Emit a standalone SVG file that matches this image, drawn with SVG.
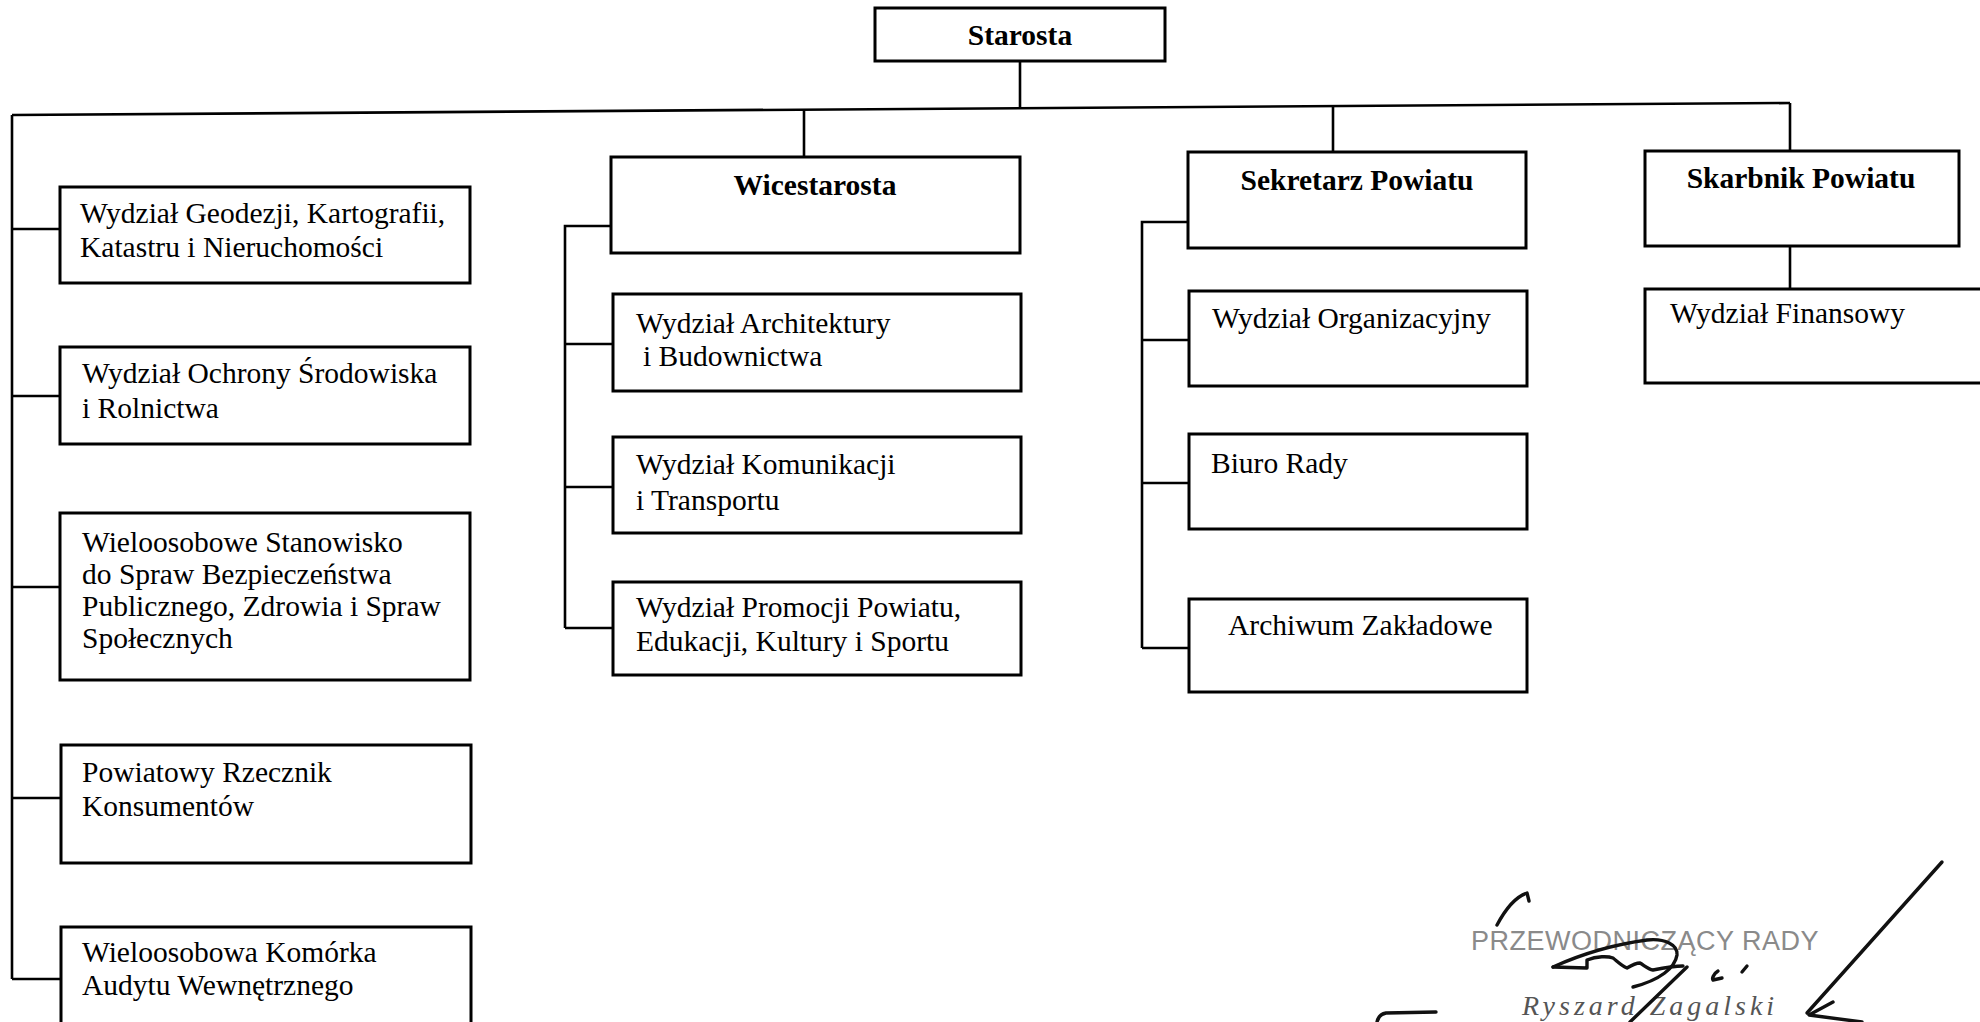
<svg xmlns="http://www.w3.org/2000/svg" width="1980" height="1022" viewBox="0 0 1980 1022">
<style>
.box{fill:#fff;stroke:#000;stroke-width:3}
.ln{fill:none;stroke:#000;stroke-width:2.6}
.t{font-family:"Liberation Serif","Times New Roman",serif;font-size:29.5px;fill:#000}
.b{font-weight:bold;text-anchor:middle}
.sig{fill:none;stroke:#111;stroke-width:3.4;stroke-linecap:round;stroke-linejoin:round}
.stamp{font-family:"Liberation Sans",Arial,sans-serif;font-size:27px;fill:#8a8a8a;letter-spacing:0.5px}
.name{font-family:"Liberation Serif","Times New Roman",serif;font-style:italic;font-size:28px;fill:#555;letter-spacing:4px}
</style>
<rect width="1980" height="1022" fill="#fff"/>
<g id="connectors">
<path class="ln" d="M1020,61 V109"/>
<path class="ln" d="M12,115 L1790,103"/>
<path class="ln" d="M12,115 V979"/>
<path class="ln" d="M12,229 H60 M12,396 H60 M12,587 H60 M12,798 H61 M12,979 H61"/>
<path class="ln" d="M804,110 V157"/>
<path class="ln" d="M611,226 H565 V628 M565,344 H613 M565,487 H613 M565,628 H613"/>
<path class="ln" d="M1333,106 V152"/>
<path class="ln" d="M1188,222 H1142 V648 M1142,340 H1189 M1142,483 H1189 M1142,648 H1189"/>
<path class="ln" d="M1790,103 V151"/>
<path class="ln" d="M1790,246 V289"/>
</g>
<g id="starosta"><rect class="box" x="875" y="8" width="290" height="53"/><text class="t b" x="1020" y="45">Starosta</text></g>
<g id="geodezja"><rect class="box" x="60" y="187" width="410" height="96"/><text class="t" x="80" y="223">Wydział Geodezji, Kartografii,</text><text class="t" x="80" y="257">Katastru i Nieruchomości</text></g>
<g id="ochrona"><rect class="box" x="60" y="347" width="410" height="97"/><text class="t" x="82" y="383">Wydział Ochrony Środowiska</text><text class="t" x="82" y="418">i Rolnictwa</text></g>
<g id="bezpieczenstwo"><rect class="box" x="60" y="513" width="410" height="167"/><text class="t" x="82" y="552">Wieloosobowe Stanowisko</text><text class="t" x="82" y="584">do Spraw Bezpieczeństwa</text><text class="t" x="82" y="616">Publicznego, Zdrowia i Spraw</text><text class="t" x="82" y="648">Społecznych</text></g>
<g id="rzecznik"><rect class="box" x="61" y="745" width="410" height="118"/><text class="t" x="82" y="782">Powiatowy Rzecznik</text><text class="t" x="82" y="816">Konsumentów</text></g>
<g id="audyt"><rect class="box" x="61" y="927" width="410" height="110"/><text class="t" x="82" y="962">Wieloosobowa Komórka</text><text class="t" x="82" y="995">Audytu Wewnętrznego</text></g>
<g id="wicestarosta"><rect class="box" x="611" y="157" width="409" height="96"/><text class="t b" x="815" y="195">Wicestarosta</text></g>
<g id="architektura"><rect class="box" x="613" y="294" width="408" height="97"/><text class="t" x="636" y="333">Wydział Architektury</text><text class="t" x="643" y="366">i Budownictwa</text></g>
<g id="komunikacja"><rect class="box" x="613" y="437" width="408" height="96"/><text class="t" x="636" y="474">Wydział Komunikacji</text><text class="t" x="636" y="510">i Transportu</text></g>
<g id="promocja"><rect class="box" x="613" y="582" width="408" height="93"/><text class="t" x="636" y="617">Wydział Promocji Powiatu,</text><text class="t" x="636" y="651">Edukacji, Kultury i Sportu</text></g>
<g id="sekretarz"><rect class="box" x="1188" y="152" width="338" height="96"/><text class="t b" x="1357" y="190">Sekretarz Powiatu</text></g>
<g id="organizacyjny"><rect class="box" x="1189" y="291" width="338" height="95"/><text class="t" x="1212" y="328">Wydział Organizacyjny</text></g>
<g id="biuro"><rect class="box" x="1189" y="434" width="338" height="95"/><text class="t" x="1211" y="473">Biuro Rady</text></g>
<g id="archiwum"><rect class="box" x="1189" y="599" width="338" height="93"/><text class="t" x="1228" y="635">Archiwum Zakładowe</text></g>
<g id="skarbnik"><rect class="box" x="1645" y="151" width="314" height="95"/><text class="t b" x="1801" y="188">Skarbnik Powiatu</text></g>
<g id="finansowy"><rect class="box" x="1645" y="289" width="360" height="94"/><text class="t" x="1670" y="323">Wydział Finansowy</text></g>
<g id="signature">
<text class="stamp" x="1471" y="950">PRZEWODNICZĄCY RADY</text>
<text class="name" x="1522" y="1015">Ryszard Zagalski</text>
<path class="sig" d="M1497,925 C1505,910 1515,897 1527,893 L1529,901"/>
<path class="sig" d="M1553,967 C1575,957 1610,945 1647,940 C1665,938 1678,945 1677,955 C1675,968 1660,980 1633,987"/>
<path class="sig" d="M1553,967 L1587,968 L1587,960 C1597,956 1608,956 1613,958 C1618,962 1622,966 1627,968 C1632,965 1636,963 1640,963 C1645,966 1648,969 1653,970 C1663,968 1673,966 1683,966"/>
<path class="sig" d="M1630,1022 L1687,967"/>
<path class="sig" d="M1718,971 C1713,974 1712,979 1713,980 L1722,978"/>
<path class="sig" d="M1747,966 L1742,972"/>
<path class="sig" d="M1807,1013 L1942,862"/>
<path class="sig" d="M1833,1002 L1809,1015 L1862,1022"/>
<path class="sig" d="M1377,1022 C1378,1017 1380,1014 1386,1013 L1436,1012"/>
</g>
</svg>
